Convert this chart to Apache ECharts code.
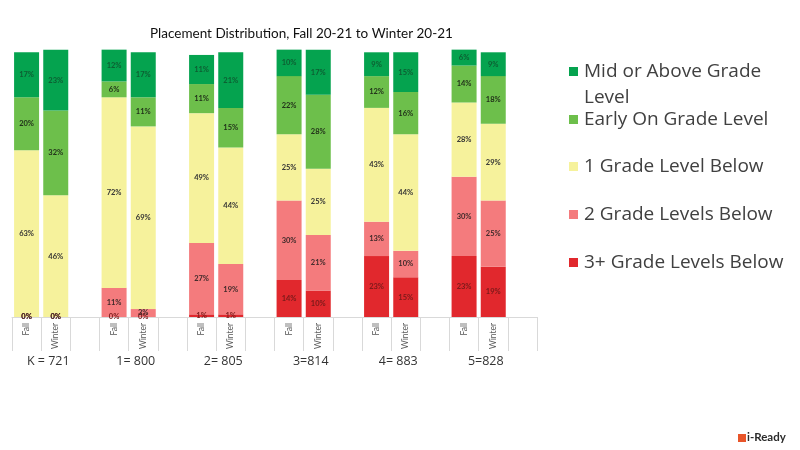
<!DOCTYPE html>
<html>
<head>
<meta charset="utf-8">
<script src="https://cdn.jsdelivr.net/npm/echarts@6/dist/echarts.min.js"></script>
<style>html,body{margin:0;padding:0;background:#fff}#c{width:800px;height:450px}</style>
</head>
<body>
<div id="c"></div>
<script>
// Grades and their student counts
var groupLabels = ['K = 721', '1= 800', '2= 805', '3=814', '4= 883', '5=828'];
var terms = ['Fall', 'Winter'];
var levels = ['Mid or Above Grade Level', 'Early On Grade Level', '1 Grade Level Below', '2 Grade Levels Below', '3+ Grade Levels Below'];
// Percent per grade (K..5) for each term
var threePlusFall   = [0, 0, 1, 14, 23, 23];
var threePlusWinter = [0, 0, 1, 10, 15, 19];
var twoBelowFall    = [0, 11, 27, 30, 13, 30];
var twoBelowWinter  = [0, 3, 19, 21, 10, 25];
var oneBelowFall    = [63, 72, 49, 25, 43, 28];
var oneBelowWinter  = [46, 69, 44, 25, 44, 29];
var earlyOnFall     = [20, 6, 11, 22, 12, 14];
var earlyOnWinter   = [32, 11, 15, 28, 16, 18];
var midAboveFall    = [17, 12, 11, 10, 9, 6];
var midAboveWinter  = [23, 17, 21, 17, 15, 9];

var colors = {
  'Mid or Above Grade Level': '#05a34f',
  'Early On Grade Level': '#6dbf4b',
  '1 Grade Level Below': '#f6f29c',
  '2 Grade Levels Below': '#f47b7d',
  '3+ Grade Levels Below': '#e1282d'
};
var labelColors = {
  'Mid or Above Grade Level': '#0d5e32',
  'Early On Grade Level': '#1f2d18',
  '1 Grade Level Below': '#333333',
  '2 Grade Levels Below': '#3f2a2a',
  '3+ Grade Levels Below': '#7a1a1a'
};

// build 18 slots: Fall, Winter, blank per grade
var slotCats = [];
groupLabels.forEach(function () { slotCats.push(terms[0], terms[1], ''); });
function slots(f, w) {
  var out = [];
  for (var i = 0; i < f.length; i++) { out.push(f[i], w[i], null); }
  return out;
}
var seriesData = [
  ['3+ Grade Levels Below', slots(threePlusFall, threePlusWinter)],
  ['2 Grade Levels Below', slots(twoBelowFall, twoBelowWinter)],
  ['1 Grade Level Below', slots(oneBelowFall, oneBelowWinter)],
  ['Early On Grade Level', slots(earlyOnFall, earlyOnWinter)],
  ['Mid or Above Grade Level', slots(midAboveFall, midAboveWinter)]
];

var series = seriesData.map(function (s) {
  return {
    name: s[0], type: 'bar', stack: 'all', barWidth: 25,
    xAxisIndex: 0, yAxisIndex: 0,
    itemStyle: { color: colors[s[0]] },
    label: {
      show: true, position: 'inside', formatter: '{c}%',
      fontFamily: 'Lato', fontSize: 7.5, fontWeight: 'bold',
      color: labelColors[s[0]]
    },
    data: s[1]
  };
});

var legendCenters = [73, 121, 168, 216, 264];
var legends = levels.map(function (name, i) {
  return {
    data: [name], left: 569, top: legendCenters[i] - 11, padding: 0,
    itemWidth: 9, itemHeight: 9, icon: 'rect', selectedMode: true,
    formatter: function (n) { return n === 'Mid or Above Grade Level' ? 'Mid or Above Grade' : n; },
    textStyle: { fontFamily: 'Open Sans', fontSize: 19, color: '#404040', padding: [0, 0, 0, 1] },
    itemGap: 6
  };
});

var chart = echarts.init(document.getElementById('c'));
chart.setOption({
  backgroundColor: '#ffffff',
  animation: false,
  title: {
    text: 'Placement Distribution, Fall 20-21 to Winter 20-21',
    left: 145, top: 22,
    textStyle: { fontFamily: 'Lato', fontSize: 13.5, fontWeight: 'normal', color: '#111' }
  },
  legend: legends,
  grid: [{ left: 12, width: 525, top: 47, bottom: 133 }],
  xAxis: [{
    type: 'category', data: slotCats, gridIndex: 0,
    axisLine: { show: true, lineStyle: { color: '#d9d9d9' } },
    axisTick: { show: true, interval: 0, length: 34, lineStyle: { color: '#d9d9d9' } },
    axisLabel: { interval: 0, rotate: 90, margin: 6, fontFamily: 'Lato', fontSize: 8.5, color: '#595959' }
  }, {
    type: 'category', data: groupLabels, gridIndex: 0, position: 'bottom',
    axisLine: { show: false }, axisTick: { show: false },
    axisLabel: { interval: 0, margin: 38, fontFamily: 'Open Sans', fontSize: 12.5, color: '#333', padding: [0, 15, 0, 0] }
  }],
  yAxis: [{ type: 'value', min: 0, max: 102, show: false, gridIndex: 0 }],
  series: series,
  graphic: [
    { type: 'text', left: 584, top: 88, style: { text: 'Level', fontFamily: 'Open Sans', fontSize: 19, fill: '#404040' } },
    { type: 'rect', left: 738, top: 434, shape: { width: 8, height: 8 }, style: { fill: '#e8552a' } },
    { type: 'text', left: 747, top: 431, style: { text: 'i-Ready', fontFamily: 'Lato', fontSize: 11.5, fontWeight: 'bold', fill: '#2b2b2b' } }
  ]
});
</script>
</body>
</html>
